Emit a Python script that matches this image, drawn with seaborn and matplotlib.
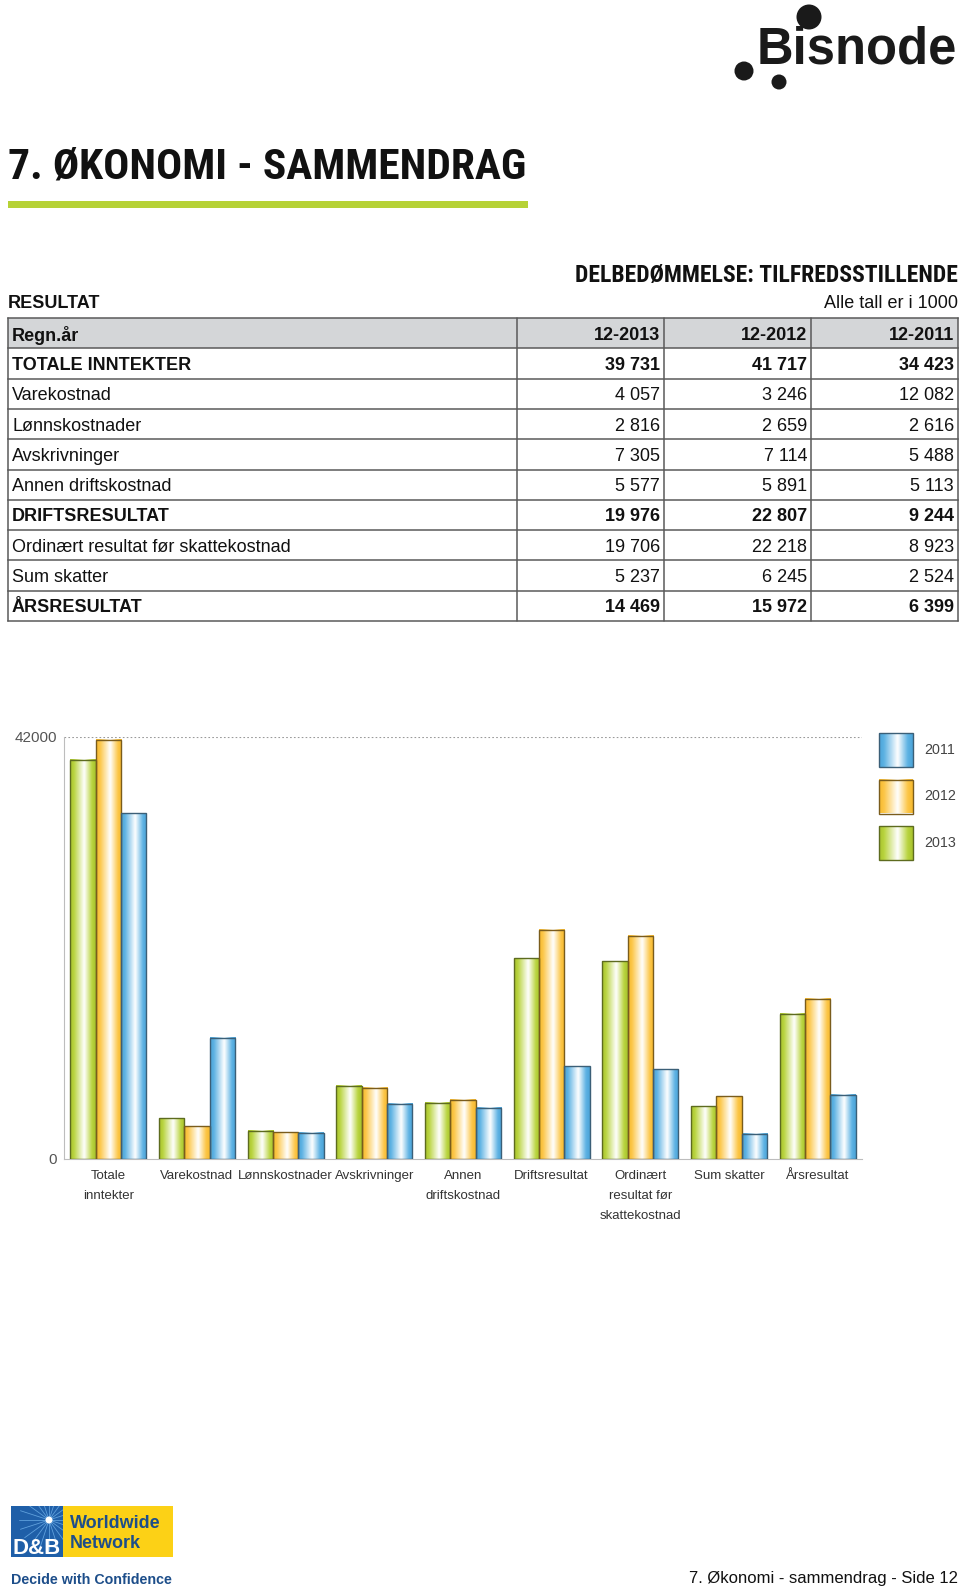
import numpy as np
import pandas as pd
import matplotlib
matplotlib.use("Agg")
import matplotlib.pyplot as plt
from matplotlib import font_manager as fm
from matplotlib.colors import LinearSegmentedColormap
from matplotlib.patches import Rectangle, Circle
import seaborn as sns

# ---------------- data ----------------
row_labels = ["TOTALE INNTEKTER", "Varekostnad", "Lønnskostnader", "Avskrivninger",
              "Annen driftskostnad", "DRIFTSRESULTAT", "Ordinært resultat før skattekostnad",
              "Sum skatter", "ÅRSRESULTAT"]
col_headers = ["12-2013", "12-2012", "12-2011"]
v2013 = [39731, 4057, 2816, 7305, 5577, 19976, 19706, 5237, 14469]
v2012 = [41717, 3246, 2659, 7114, 5891, 22807, 22218, 6245, 15972]
v2011 = [34423, 12082, 2616, 5488, 5113, 9244, 8923, 2524, 6399]
chart_categories = ["Totale\ninntekter", "Varekostnad", "Lønnskostnader", "Avskrivninger",
                    "Annen\ndriftskostnad", "Driftsresultat", "Ordinært\nresultat før\nskattekostnad",
                    "Sum skatter", "Årsresultat"]
years = ["2013", "2012", "2011"]
y_ticks = [0, 42000]

# ---------------- fonts ----------------
sns.set_theme(style="white")
all_fonts = fm.fontManager.ttflist
avail = {f.name for f in all_fonts}
SANS = "Liberation Sans" if "Liberation Sans" in avail else "DejaVu Sans"
NARROW = SANS
for cand in ["Roboto Condensed", "Liberation Sans Narrow", "Nimbus Sans Narrow",
             "Archivo Narrow", "Asap Condensed"]:
    if any(f.name == cand and f.weight in (700, "bold") for f in all_fonts):
        NARROW = cand
        break
narrow_ok = NARROW != SANS
plt.rcParams["font.family"] = [SANS, "DejaVu Sans"]

W, H = 960, 1589
fig = plt.figure(figsize=(W / 100, H / 100), dpi=100)

ov = fig.add_axes([0, 0, 1, 1], zorder=0)
ov.set_xlim(0, W)
ov.set_ylim(H, 0)
ov.axis("off")

# ---------------- Bisnode logo ----------------
ov.text(757, 64, "Bisnode", fontsize=36.5, fontweight="bold", color="#1a1a1a",
        ha="left", va="baseline", family=SANS)
for (cx, cy, r) in [(809, 17, 12.5), (744, 71, 9.5), (779, 82, 7.5)]:
    ov.add_patch(Circle((cx, cy), r, color="#1a1a1a", lw=0))

# ---------------- title ----------------
ov.text(8, 178, "7. ØKONOMI - SAMMENDRAG", fontsize=31.3 if narrow_ok else 26,
        fontweight="bold", color="#111111", ha="left", va="baseline", family=NARROW)
ov.add_patch(Rectangle((8, 201), 520, 7, color="#b6d236", lw=0))

ov.text(958, 282, "DELBEDØMMELSE: TILFREDSSTILLENDE", fontsize=17 if narrow_ok else 13.5,
        fontweight="bold", color="#111111", ha="right", va="baseline", family=NARROW)
ov.text(8, 308, "RESULTAT", fontsize=13, fontweight="bold", color="#111111",
        ha="left", va="baseline")
ov.text(958, 308, "Alle tall er i 1000", fontsize=13, color="#111111",
        ha="right", va="baseline")

# ---------------- table ----------------
t_top, row_h = 318, 30.3
col_x = [8, 517, 664, 811, 958]
n_rows = len(row_labels) + 1
t_bot = t_top + row_h * n_rows
ov.add_patch(Rectangle((col_x[0], t_top), col_x[-1] - col_x[0], row_h,
                       facecolor="#d4d6d8", lw=0, zorder=1))
line_c = "#5a5a5a"
for i in range(n_rows + 1):
    y = t_top + row_h * i
    ov.plot([col_x[0], col_x[-1]], [y, y], color=line_c, lw=1.1, zorder=2,
            solid_capstyle="projecting")
for x in col_x:
    ov.plot([x, x], [t_top, t_bot], color=line_c, lw=1.1, zorder=2)

def fmt(v):
    return f"{v:,}".replace(",", " ")

rows = [("Regn.år", col_headers, True)]
for lab, a, b, c in zip(row_labels, v2013, v2012, v2011):
    rows.append((lab, [fmt(a), fmt(b), fmt(c)], lab.isupper()))
for i, (lab, vals, bold) in enumerate(rows):
    yc = t_top + row_h * (i + 0.5)
    fw = "bold" if bold else "normal"
    ov.text(col_x[0] + 4, yc, lab, fontsize=13, fontweight=fw, color="#111111",
            ha="left", va="center_baseline", zorder=3)
    for j, v in enumerate(vals):
        ov.text(col_x[j + 2] - 4, yc, v, fontsize=13, fontweight=fw, color="#111111",
                ha="right", va="center_baseline", zorder=3)

# ---------------- chart ----------------
ax_l, ax_r, ax_t, ax_b = 64, 862, 737, 1159
ax = fig.add_axes([ax_l / W, 1 - ax_b / H, (ax_r - ax_l) / W, (ax_b - ax_t) / H], zorder=2)
ax.set_facecolor("none")

df = pd.DataFrame({
    "cat": chart_categories * 3,
    "year": [years[0]] * 9 + [years[1]] * 9 + [years[2]] * 9,
    "val": v2013 + v2012 + v2011,
})
base_cols = {"2013": "#b9d43f", "2012": "#fcc647", "2011": "#5db2e3"}
dark_cols = {"2013": "#a7c22c", "2012": "#f6b92e", "2011": "#4aa3d8"}
edge_cols = {"2013": "#5d6b1f", "2012": "#7a5c1c", "2011": "#3b5f77"}
sns.barplot(data=df, x="cat", y="val", hue="year", hue_order=years,
            palette=[base_cols[y] for y in years], width=0.855, saturation=1,
            errorbar=None, legend=False, ax=ax)

grad = np.linspace(0, 1, 256).reshape(1, -1)
cmaps = {}
for y in years:
    cmaps[y] = LinearSegmentedColormap.from_list(
        "g" + y, [(0, dark_cols[y]), (0.15, base_cols[y]), (0.55, "#ffffff"),
                  (0.85, base_cols[y]), (1, dark_cols[y])])

for y, cont in zip(years, ax.containers):
    for bar in cont:
        x0, y0 = bar.get_x(), bar.get_y()
        w, h = bar.get_width(), bar.get_height()
        ax.imshow(grad, cmap=cmaps[y], extent=[x0, x0 + w, y0, y0 + h],
                  aspect="auto", zorder=2, interpolation="bicubic")
        bar.set_facecolor("none")
        bar.set_edgecolor(edge_cols[y])
        bar.set_linewidth(1.0)
        bar.set_zorder(3)

ax.set_xlim(-0.5, len(chart_categories) - 0.5)
ax.set_ylim(0, 42000)
ax.set_aspect("auto")
ax.set_xlabel("")
ax.set_ylabel("")
ax.set_yticks(y_ticks)
ax.set_yticklabels([str(t) for t in y_ticks])
ax.tick_params(axis="y", length=0, pad=5, labelsize=11, labelcolor="#555555")
ax.set_xticks(range(len(chart_categories)))
ax.set_xticklabels(chart_categories, linespacing=1.9)
ax.tick_params(axis="x", which="major", length=0, pad=8, labelsize=9.5, labelcolor="#333333")
ax.set_xticks(np.arange(0.5, len(chart_categories), 1), minor=True)
ax.tick_params(axis="x", which="minor", direction="in", length=7, width=0.8, color="#b0b0b0")
for lbl in ax.get_xticklabels():
    lbl.set_multialignment("center")
ax.axhline(42000, ls=(0, (1.5, 2)), color="#9a9a9a", lw=0.8, zorder=1)
for s in ["top", "right"]:
    ax.spines[s].set_visible(False)
ax.spines["left"].set_color("#bdbdbd")
ax.spines["bottom"].set_color("#bdbdbd")
ax.spines["left"].set_linewidth(0.8)
ax.spines["bottom"].set_linewidth(0.8)
ax.grid(False)

# ---------------- legend ----------------
leg_years = ["2011", "2012", "2013"]
for k, y in enumerate(leg_years):
    by0 = 733 + 46.5 * k
    ov.imshow(grad, cmap=cmaps[y], extent=[879, 913, by0 + 34, by0], aspect="auto",
              zorder=2, interpolation="bicubic")
    ov.add_patch(Rectangle((879, by0), 34, 34, facecolor="none",
                           edgecolor=edge_cols[y], lw=1.0, zorder=3))
    ov.text(924, by0 + 17, y, fontsize=10.3, color="#444444", ha="left", va="center")

# ---------------- D&B footer ----------------
ov.add_patch(Rectangle((11, 1506), 52, 51, facecolor="#1f5fa8", lw=0, zorder=1))
for ang in np.linspace(0, 2 * np.pi, 20, endpoint=False):
    ov.plot([49, 49 + 30 * np.cos(ang)], [1520, 1520 + 30 * np.sin(ang)],
            color="#5fa0dc", lw=0.6, zorder=1.5)
ov.add_patch(Rectangle((63, 1506), 110, 51, facecolor="#fcd116", lw=0, zorder=1.7))
ov.add_patch(Rectangle((0, 1470), 11, 100, facecolor="white", lw=0, zorder=1.7))
ov.add_patch(Rectangle((0, 1470), 80, 36, facecolor="white", lw=0, zorder=1.7))
ov.add_patch(Circle((49, 1520), 3.5, color="white", lw=0, zorder=2))
ov.text(37, 1554, "D&B", fontsize=16, fontweight="bold", color="white",
        ha="center", va="baseline", zorder=3)
ov.text(70, 1528, "Worldwide", fontsize=13, fontweight="bold", color="#1d4e8a",
        ha="left", va="baseline", zorder=3)
ov.text(70, 1548, "Network", fontsize=13, fontweight="bold", color="#1d4e8a",
        ha="left", va="baseline", zorder=3)
ov.text(11, 1580, "Decide with Confidence", fontsize=10.3, fontweight="bold",
        color="#1d4e8a", ha="left", va="center")

ov.text(958, 1583, "7. Økonomi - sammendrag - Side 12", fontsize=12, color="#111111",
        ha="right", va="baseline")

ov.set_xlim(0, W)
ov.set_ylim(H, 0)

fig.savefig("out.png", dpi=100)
